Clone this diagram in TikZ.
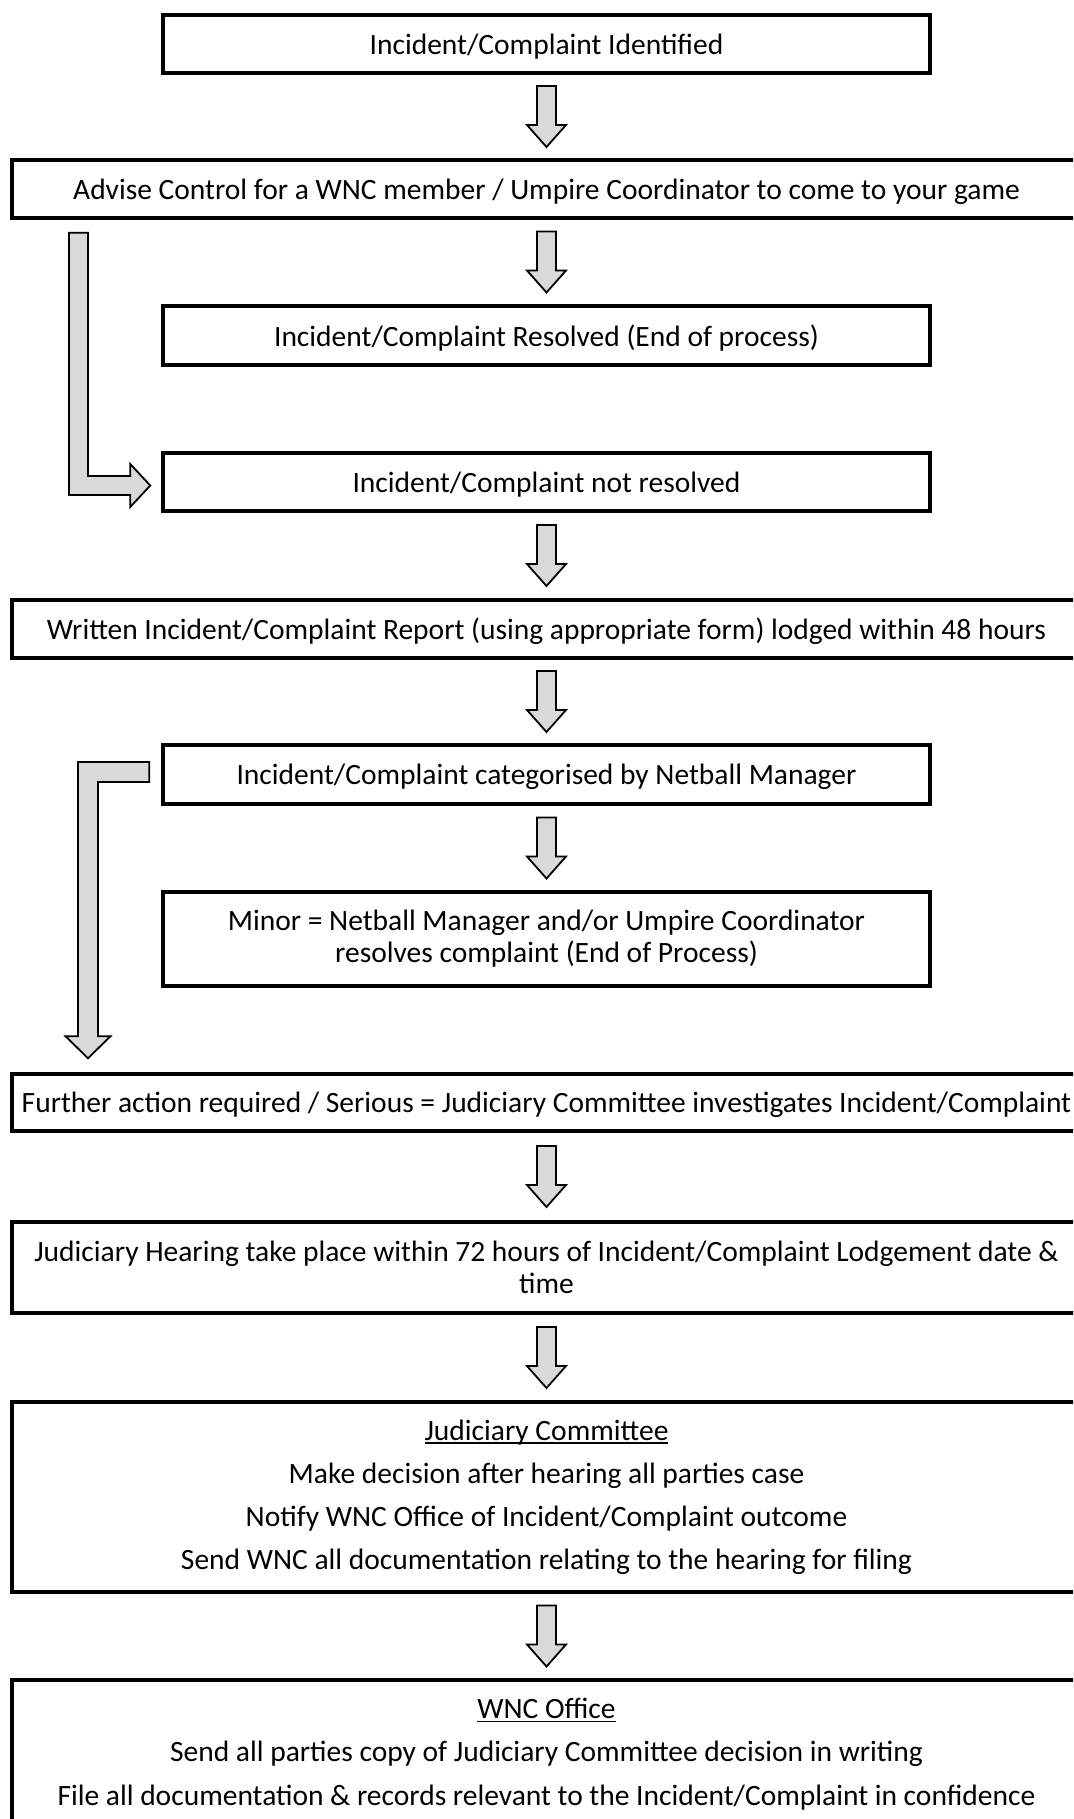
\documentclass[tikz,border=0pt]{standalone}
\usepackage{fontspec}
\setmainfont{Carlito}
\usetikzlibrary{calc}
\definecolor{arrowgray}{HTML}{D9D9D9}
\newcommand\ulx[1]{\setbox0\hbox{#1}\rlap{\rule[-4pt]{\wd0}{1.8pt}}\box0}
\newcommand\flowarrow[2]{%
  \coordinate (m) at ($(#1.south)!0.5!(#2.north)$);
  \draw[barrow] ([xshift=-9.5pt,yshift=30.5pt]m) -- ([xshift=9.5pt,yshift=30.5pt]m)
    -- ([xshift=9.5pt,yshift=-8.5pt]m) -- ([xshift=19.5pt,yshift=-8.5pt]m)
    -- ([yshift=-30.5pt]m) -- ([xshift=-19.5pt,yshift=-8.5pt]m)
    -- ([xshift=-9.5pt,yshift=-8.5pt]m) -- cycle;}
\begin{document}
\begin{tikzpicture}[x=1pt,y=-1pt,
  box/.style={draw=black,line width=3.6pt,fill=white,inner sep=0pt,align=center,
    font=\fontsize{29.5}{32}\selectfont,
    execute at begin node={\rule{0pt}{26pt}}},
  narrowbox/.style={box,minimum width=767.4pt},
  widebox/.style={box,minimum width=1069.4pt},
  barrow/.style={draw=black,fill=arrowgray,line width=1.8pt,line join=miter}]
\useasboundingbox (0,0) rectangle (1073,1819);
\clip (0,0) rectangle (1073,1819);
\fill[white] (0,0) rectangle (1073,1819);

\node[narrowbox,minimum height=58.4pt] (b1) at (546.5,44) {Incident/Complaint Identified};
\node[widebox,minimum height=58.4pt] (b2) at (546.5,189) {Advise Control for a WNC member / Umpire Coordinator to come to your game};
\node[narrowbox,minimum height=59.4pt] (b3) at (546.5,335.5) {Incident/Complaint Resolved (End of process)};
\node[narrowbox,minimum height=58.4pt] (b4) at (546.5,482) {Incident/Complaint not resolved};
\node[widebox,minimum height=58.4pt] (b5) at (546.5,629) {Written Incident/Complaint Report (using appropriate form) lodged within 48 hours};
\node[narrowbox,minimum height=59.4pt] (b6) at (546.5,774.5) {Incident/Complaint categorised by Netball Manager};
\node[narrowbox,minimum height=94.4pt,execute at begin node={\rule{0pt}{28pt}}] (b7) at (546.5,939) {Minor = Netball Manager and/or Umpire Coordinator\\resolves complaint (End of Process)};
\node[widebox,minimum height=57.4pt] (b8) at (546.5,1102.5) {Further action required / Serious = Judiciary Committee investigates Incident/Complaint};
\node[widebox,minimum height=91.4pt,execute at begin node={\rule{0pt}{28pt}}] (b9) at (546.5,1267.5) {Judiciary Hearing take place within 72 hours of Incident/Complaint Lodgement date \&\\time};
\node[widebox,minimum height=190.4pt,execute at begin node={\rule{0pt}{33pt}}] (b10) at (546.5,1497) {\ulx{Judiciary Committee}\\[11pt]Make decision after hearing all parties case\\[11pt]Notify WNC Office of Incident/Complaint outcome\\[11pt]Send WNC all documentation relating to the hearing for filing};
\node[widebox,minimum height=148.4pt,execute at begin node={\rule{0pt}{31pt}}] (b11) at (546.5,1754) {\ulx{WNC Office}\\[11.5pt]Send all parties copy of Judiciary Committee decision in writing\\[11.5pt]File all documentation \& records relevant to the Incident/Complaint in confidence};

\flowarrow{b1}{b2}
\flowarrow{b2}{b3}
\flowarrow{b4}{b5}
\flowarrow{b5}{b6}
\flowarrow{b6}{b7}
\flowarrow{b8}{b9}
\flowarrow{b9}{b10}
\flowarrow{b10}{b11}

% L-shaped arrow from b2 down to b4
\draw[barrow] let \p1=([yshift=-12.75pt]b2.south), \p2=([xshift=-10.75pt,yshift=-3.5pt]b4.west) in
  (69pt,\y1) -- (88pt,\y1) -- (88pt,\y2+9.5pt) -- (\x2-20pt,\y2+9.5pt) -- (\x2-20pt,\y2+21.5pt)
  -- (\x2,\y2) -- (\x2-20pt,\y2-21.5pt) -- (\x2-20pt,\y2-9.5pt) -- (69pt,\y2-9.5pt) -- cycle;

% L-shaped arrow from b6 down to b8
\draw[barrow] let \p1=([xshift=-11.75pt,yshift=2.5pt]b6.west), \p2=([yshift=13.75pt]b8.north) in
  (\x1,\y1+10pt) -- (78pt,\y1+10pt) -- (78pt,\y2+22pt) -- (65.5pt,\y2+22pt) -- (88pt,\y2)
  -- (110.5pt,\y2+22pt) -- (98pt,\y2+22pt) -- (98pt,\y1-10pt) -- (\x1,\y1-10pt) -- cycle;
\end{tikzpicture}
\end{document}
